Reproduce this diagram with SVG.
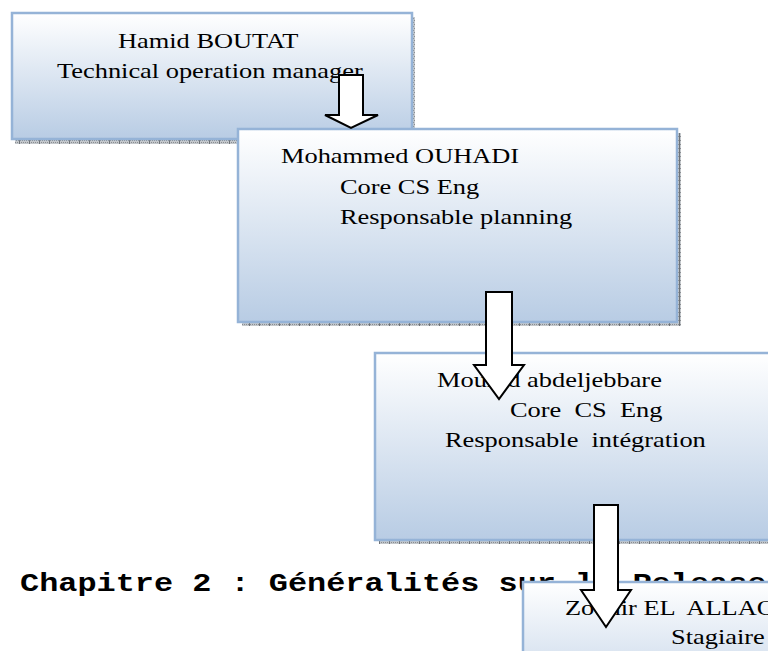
<svg xmlns="http://www.w3.org/2000/svg" width="768" height="651" viewBox="0 0 768 651">
  <defs>
    <linearGradient id="boxFill" x1="0" y1="0" x2="0" y2="1">
      <stop offset="0" stop-color="#ffffff"/>
      <stop offset="1" stop-color="#b8cce4"/>
    </linearGradient>
    <pattern id="shadowPat" width="10" height="4" patternUnits="userSpaceOnUse">
      <rect width="10" height="4" fill="#c4c8cc"/>
      <rect x="0" y="0" width="1" height="1" fill="#8a8d91"/>
      <rect x="2" y="0" width="1" height="1" fill="#8a8d91"/>
      <rect x="4" y="0" width="1" height="1" fill="#8a8d91"/>
      <rect x="6" y="0" width="1" height="1" fill="#8a8d91"/>
      <rect x="8" y="0" width="1" height="1" fill="#8a8d91"/>
      <rect x="1" y="2" width="1" height="1" fill="#8a8d91"/>
      <rect x="3" y="2" width="1" height="1" fill="#8a8d91"/>
      <rect x="5" y="2" width="1" height="1" fill="#8a8d91"/>
      <rect x="7" y="2" width="1" height="1" fill="#8a8d91"/>
      <rect x="9" y="2" width="1" height="1" fill="#8a8d91"/>
      <rect x="9" y="0" width="1" height="4" fill="#6f7377"/>
    </pattern>
  </defs>
  <style>
    .shadow { fill: url(#shadowPat); }
    .box { fill: url(#boxFill); stroke: #95b3d7; stroke-width: 2.5; }
    .t { font-family: "Liberation Serif", "Times New Roman", serif; font-size: 22px; fill: #000; white-space: pre; }
    .h { font-family: "Liberation Mono", "Courier New", monospace; font-weight: bold; font-size: 26px; fill: #000; white-space: pre; }
    .arrow { fill: #ffffff; stroke: #000000; stroke-width: 2; stroke-linejoin: miter; }
  </style>
  <rect width="768" height="651" fill="#ffffff"/>

  <g id="node-boutat">
    <rect class="shadow" x="15" y="17" width="400" height="127"/>
    <rect class="box" x="12" y="13" width="400" height="126"/>
    <text class="t" transform="matrix(1.2 0 0 1 118 48)">Hamid BOUTAT</text>
    <text class="t" transform="matrix(1.2 0 0 1 57 78)">Technical operation manager</text>
  </g>

  <g id="node-ouhadi">
    <rect class="shadow" x="242" y="133" width="439" height="193"/>
    <rect class="box" x="238" y="129" width="439" height="193"/>
    <text class="t" transform="matrix(1.2 0 0 1 281 163)">Mohammed OUHADI</text>
    <text class="t" transform="matrix(1.2 0 0 1 340 194)">Core CS Eng</text>
    <text class="t" transform="matrix(1.2 0 0 1 340 224)">Responsable planning</text>
  </g>

  <g id="node-abdeljebbare">
    <rect class="shadow" x="379" y="357" width="440" height="187"/>
    <rect class="box" x="375" y="353" width="440" height="187"/>
    <text class="t" transform="matrix(1.2 0 0 1 437 387)">Mourad abdeljebbare</text>
    <text class="t" transform="matrix(1.2 0 0 1 510 417)">Core  CS  Eng</text>
    <text class="t" transform="matrix(1.2 0 0 1 445 447)">Responsable  intégration</text>
  </g>

  <text class="h" transform="matrix(1.227 0 0 1 20 591)">Chapitre 2 : Généralités sur la Release</text>

  <g id="node-allaoui">
    <rect class="box" x="523" y="582" width="290" height="140"/>
    <text class="t" transform="matrix(1.2 0 0 1 565 615)">Zouhir EL  ALLAOUI</text>
    <text class="t" transform="matrix(1.2 0 0 1 671 644)">Stagiaire</text>
  </g>

  <g id="connectors">
    <polygon class="arrow" points="339,75 363,75 363,115 378,115 351,128 325,115 339,115"/>
    <polygon class="arrow" points="486,292 512,292 512,365 524,365 499,399 474,365 486,365"/>
    <polygon class="arrow" points="594,505 618,505 618,590 631,590 606,627 581,590 594,590"/>
  </g>
</svg>
